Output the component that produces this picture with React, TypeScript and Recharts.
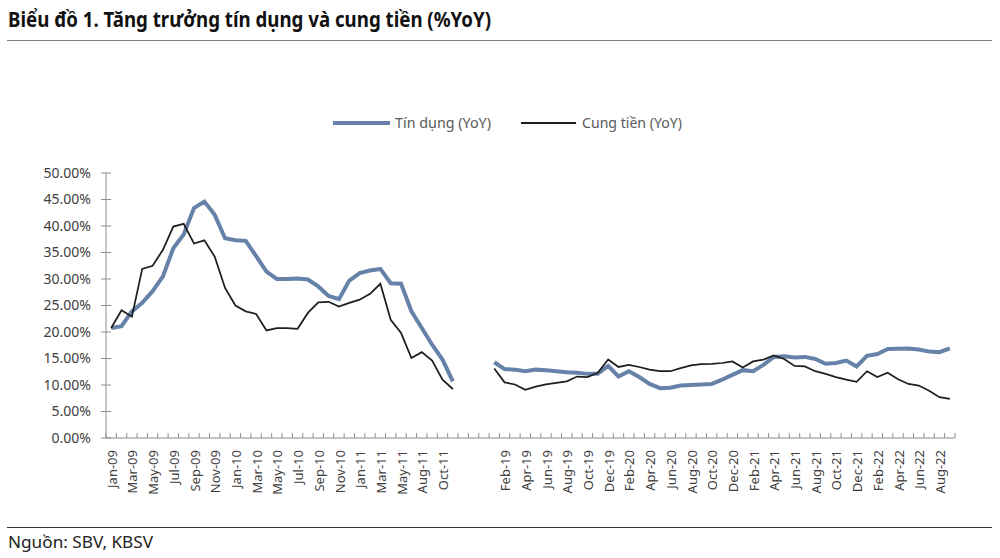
import { LineChart, Line, XAxis, YAxis } from "recharts";

const months = [
  "Jan-09", "Feb-09", "Mar-09", "Apr-09", "May-09", "Jun-09", "Jul-09", "Aug-09", "Sep-09", "Oct-09", "Nov-09", "Dec-09",
  "Jan-10", "Feb-10", "Mar-10", "Apr-10", "May-10", "Jun-10", "Jul-10", "Aug-10", "Sep-10", "Oct-10", "Nov-10", "Dec-10",
  "Jan-11", "Feb-11", "Mar-11", "Apr-11", "May-11", "Jul-11", "Aug-11", "Sep-11", "Oct-11", "Nov-11",
  "", "", "",
  "Jan-19", "Feb-19", "Mar-19", "Apr-19", "May-19", "Jun-19", "Jul-19", "Aug-19", "Sep-19", "Oct-19", "Nov-19", "Dec-19",
  "Jan-20", "Feb-20", "Mar-20", "Apr-20", "May-20", "Jun-20", "Jul-20", "Aug-20", "Sep-20", "Oct-20", "Nov-20", "Dec-20",
  "Jan-21", "Feb-21", "Mar-21", "Apr-21", "May-21", "Jun-21", "Jul-21", "Aug-21", "Sep-21", "Oct-21", "Nov-21", "Dec-21",
  "Jan-22", "Feb-22", "Mar-22", "Apr-22", "May-22", "Jun-22", "Jul-22", "Aug-22", "Sep-22",
];

// Tín dụng (YoY), %
const credit = [
  20.75, 21.1, 23.9, 25.5, 27.7, 30.5, 35.8, 38.4, 43.4, 44.6, 42.1, 37.7,
  37.3, 37.2, 34.3, 31.4, 30.0, 30.0, 30.1, 29.9, 28.6, 26.8, 26.2, 29.7,
  31.1, 31.6, 31.9, 29.2, 29.1, 23.9, 20.75, 17.6, 14.8, 10.7,
  null, null, null,
  14.3, 13.0, 12.9, 12.6, 12.9, 12.8, 12.6, 12.4, 12.3, 12.1, 12.1, 13.6,
  11.6, 12.6, 11.5, 10.2, 9.4, 9.5, 9.9, 10.0, 10.1, 10.2, 11.0, 11.9,
  12.8, 12.6, 13.8, 15.3, 15.4, 15.2, 15.3, 14.9, 14.0, 14.15, 14.6, 13.5,
  15.5, 15.85, 16.8, 16.85, 16.9, 16.7, 16.3, 16.2, 16.9,
];

// Cung tiền (YoY), %
const money = [
  20.75, 24.1, 22.9, 31.9, 32.5, 35.5, 39.9, 40.4, 36.7, 37.3, 34.2, 28.3,
  25.0, 23.9, 23.4, 20.3, 20.75, 20.75, 20.6, 23.6, 25.6, 25.7, 24.8, 25.5,
  26.1, 27.2, 29.1, 22.3, 19.8, 15.1, 16.2, 14.6, 11.0, 9.25,
  null, null, null,
  13.1, 10.5, 10.1, 9.1, 9.7, 10.1, 10.4, 10.7, 11.6, 11.5, 12.3, 14.8,
  13.4, 13.8, 13.4, 12.9, 12.6, 12.6, 13.2, 13.7, 13.95, 14.0, 14.15, 14.45,
  13.3, 14.45, 14.8, 15.6, 14.9, 13.6, 13.5, 12.6, 12.1, 11.5, 11.0, 10.6,
  12.6, 11.5, 12.3, 11.1, 10.2, 9.9, 8.9, 7.7, 7.4,
];

const yTicks = [0, 5, 10, 15, 20, 25, 30, 35, 40, 45, 50];

const BLUE = "#6682a8";
const BLACK = "#1f1f1f";
const AXIS = "#8c8c8c";
const FONT = '"Noto Sans", "Open Sans", sans-serif';

const PLOT_W = 849;
const BAND = PLOT_W / months.length;

const rows = months.map((m, i) => ({ month: m, credit: credit[i], money: money[i] }));

function MonthTick(props: any) {
  const { x, y, payload } = props;
  const i = payload.index;
  const left = x - BAND / 2;
  return (
    <g>
      <line x1={left} x2={left} y1={y} y2={y - 5} stroke={AXIS} />
      {i === months.length - 1 && (
        <line x1={x + BAND / 2} x2={x + BAND / 2} y1={y} y2={y - 5} stroke={AXIS} />
      )}
      {i % 2 === 0 && payload.value && (
        <text
          transform={`translate(${x + 1},${y + 12}) rotate(-90)`}
          textAnchor="end"
          dy="0.35em"
          fontSize={13}
          fill="#404040"
          fontFamily={FONT}
        >
          {payload.value}
        </text>
      )}
    </g>
  );
}

function PctTick(props: any) {
  const { x, y, payload } = props;
  return (
    <g>
      <line x1={x - 5} x2={x + 5} y1={y} y2={y} stroke={AXIS} />
      <text x={x - 15} y={y} dy="0.35em" textAnchor="end" fontSize={14} fill="#404040" fontFamily={FONT}>
        {payload.value.toFixed(2)}%
      </text>
    </g>
  );
}

export default function App() {
  return (
    <div style={{ position: "absolute", left: 0, top: 0, width: 1000, height: 558, background: "#fff" }}>
      <LineChart
        width={1000}
        height={558}
        data={rows}
        margin={{ top: 173, right: 45, bottom: 60, left: 36 }}
        style={{ position: "absolute", left: 0, top: 0 }}
      >
        <XAxis
          dataKey="month"
          interval={0}
          tickSize={0}
          tickMargin={0}
          tickLine={false}
          stroke={AXIS}
          height={60}
          padding={{ left: BAND / 2, right: BAND / 2 }}
          tick={<MonthTick />}
        />
        <YAxis
          domain={[0, 50]}
          ticks={yTicks}
          width={70}
          tickSize={0}
          tickMargin={0}
          tickLine={false}
          stroke={AXIS}
          tick={<PctTick />}
        />
        <Line
          dataKey="credit"
          stroke={BLUE}
          strokeWidth={4}
          dot={false}
          isAnimationActive={false}
        />
        <Line
          dataKey="money"
          stroke={BLACK}
          strokeWidth={1.75}
          dot={false}
          isAnimationActive={false}
        />
      </LineChart>

      <svg
        width={1000}
        height={558}
        style={{ position: "absolute", left: 0, top: 0, pointerEvents: "none" }}
        fontFamily={FONT}
      >
        <text x={8} y={27} fontSize={21} fontWeight={700} fill="#111" textLength={483} lengthAdjust="spacingAndGlyphs">
          Biểu đồ 1. Tăng trưởng tín dụng và cung tiền (%YoY)
        </text>
        <line x1={7} x2={992} y1={40.5} y2={40.5} stroke="#7f7f7f" strokeWidth={1.2} />

        <line x1={333} x2={390} y1={123} y2={123} stroke={BLUE} strokeWidth={4} />
        <text x={395} y={123} dy="0.35em" fontSize={14} fill="#595959" textLength={96} lengthAdjust="spacingAndGlyphs">
          Tín dụng (YoY)
        </text>
        <line x1={521} x2={576} y1={123} y2={123} stroke={BLACK} strokeWidth={2} />
        <text x={582} y={123} dy="0.35em" fontSize={14} fill="#595959" textLength={100} lengthAdjust="spacingAndGlyphs">
          Cung tiền (YoY)
        </text>

        <line x1={7} x2={992} y1={527.5} y2={527.5} stroke="#333" strokeWidth={1.2} />
        <text x={8} y={548} fontSize={16} fill="#222" textLength={145} lengthAdjust="spacingAndGlyphs">
          Nguồn: SBV, KBSV
        </text>
      </svg>
    </div>
  );
}
